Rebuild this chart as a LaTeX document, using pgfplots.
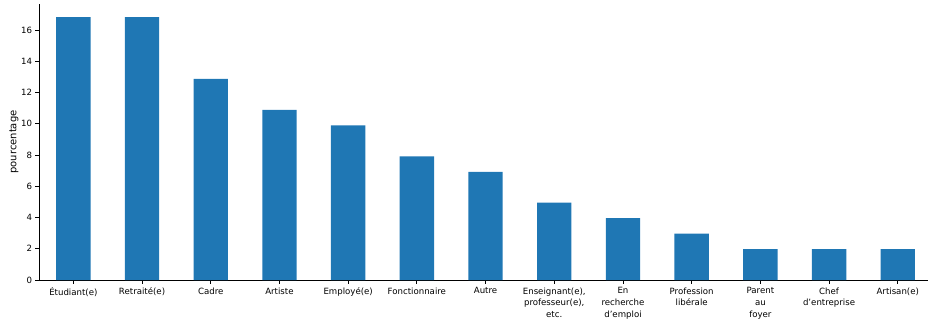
\documentclass[border=0pt]{standalone}
\usepackage{pgfplots}
\pgfplotsset{compat=1.18}
\usepackage{fontspec}
\setmainfont{DejaVu Sans}
\definecolor{mplblue}{HTML}{1F77B4}
\newcommand{\ap}{\symbol{"27}}
\begin{document}
\begin{tikzpicture}
\begin{axis}[
  scale only axis,
  width=889bp, height=276bp,
  xmin=-0.5, xmax=12.44,
  ymin=0, ymax=17.67,
  axis lines*=left,
  axis line style={line width=0.8bp, black},
  ytick={0,2,...,16},
  xtick={0,...,12},
  xticklabels={{Étudiant(e)},{Retraité(e)},{Cadre},{Artiste},{Employé(e)},{Fonctionnaire},{Autre},{Enseignant(e),\\professeur(e),\\etc.},{En\\recherche\\d\ap emploi},{Profession\\libérale},{Parent\\au\\foyer},{Chef\\d\ap entreprise},{Artisan(e)}},
  xticklabel style={align=center, font=\fontsize{8.6bp}{11.7bp}\selectfont, anchor=north, yshift=-0.5bp},
  yticklabel style={font=\fontsize{8.6bp}{9.6bp}\selectfont},
  /pgf/number format/assume math mode=true,
  tick align=outside,
  major tick length=3.5bp,
  tick style={line width=0.8bp, black},
  ylabel={pourcentage},
  ylabel style={font=\fontsize{8.6bp}{10bp}\selectfont},
  every axis y label/.style={at={(axis description cs:0,0.5)}, xshift=-25bp, anchor=center, rotate=90},
  clip=false,
]
\addplot[ybar, bar width=34.35bp, fill=mplblue, draw=none] coordinates {
 (0,16.83) (1,16.83) (2,12.87) (3,10.89) (4,9.90) (5,7.92) (6,6.93) (7,4.95) (8,3.96) (9,2.97) (10,1.98) (11,1.98) (12,1.98)
};
\end{axis}
\pgfresetboundingbox
\path[use as bounding box] (current axis.south west) ++(-39bp,-41bp) rectangle ++(928bp,321bp);
\end{tikzpicture}
\end{document}
